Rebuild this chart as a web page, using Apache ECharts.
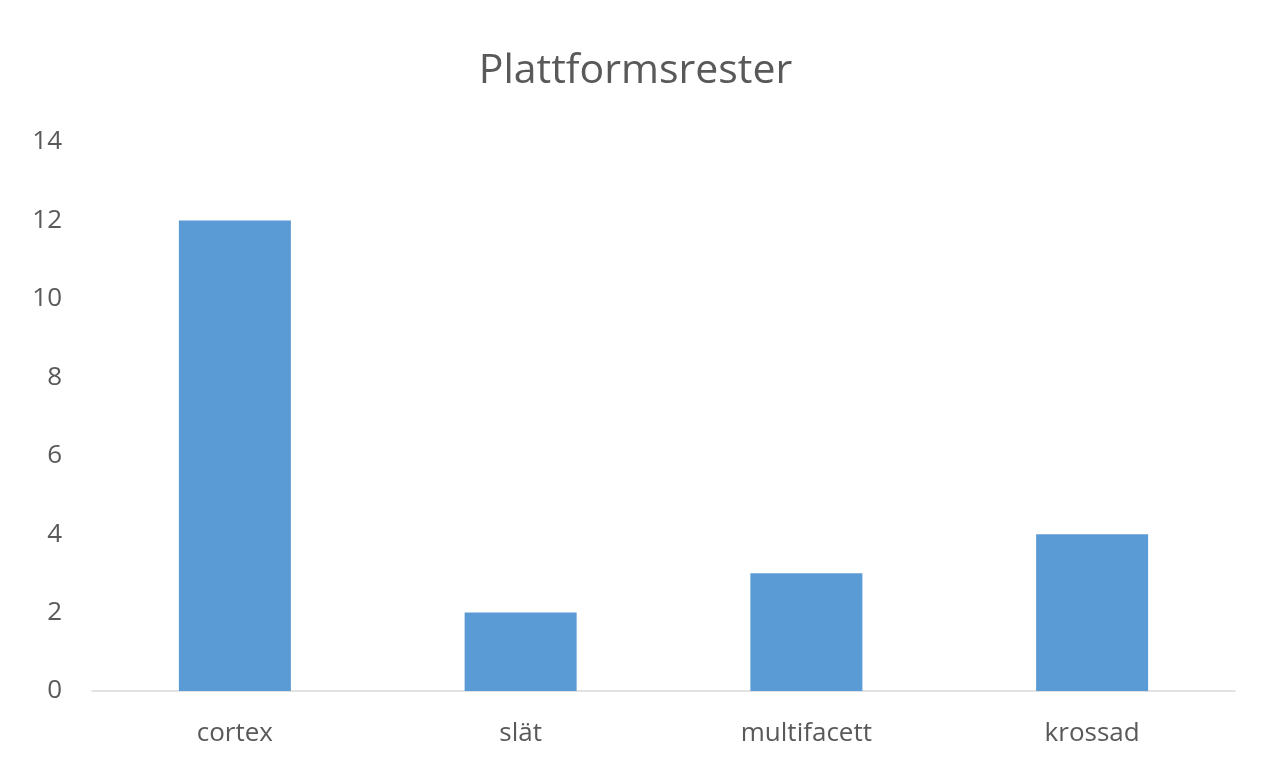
<!DOCTYPE html>
<html>
<head>
<meta charset="utf-8">
<script src="https://cdn.jsdelivr.net/npm/echarts@6/dist/echarts.min.js"></script>
<style>
  html, body { margin: 0; padding: 0; background: #ffffff; }
  #chart { width: 1271px; height: 766px; }
</style>
</head>
<body>
<div id="chart"></div>
<script>
// Platform remnants by type
const categories = ['cortex', 'slät', 'multifacett', 'krossad'];
const counts = [12, 2, 3, 4];
const yTicks = [0, 2, 4, 6, 8, 10, 12, 14];

const chart = echarts.init(document.getElementById('chart'));
chart.setOption({
  backgroundColor: '#ffffff',
  animation: false,
  title: {
    text: 'Plattformsrester',
    left: 'center',
    top: 46,
    textStyle: {
      fontFamily: 'Open Sans',
      fontSize: 41,
      fontWeight: 'normal',
      color: '#595959'
    }
  },
  grid: { left: 92, right: 36, top: 142, bottom: 75 },
  xAxis: {
    type: 'category',
    data: categories,
    axisLine: { lineStyle: { color: '#d9d9d9', width: 1.5 } },
    axisTick: { show: false },
    axisLabel: {
      fontFamily: 'Open Sans',
      fontSize: 26,
      color: '#595959',
      margin: 30
    }
  },
  yAxis: {
    type: 'value',
    min: yTicks[0],
    max: yTicks[yTicks.length - 1],
    interval: 2,
    axisLine: { show: false },
    axisTick: { show: false },
    splitLine: { show: false },
    axisLabel: {
      fontFamily: 'Open Sans',
      fontSize: 26,
      color: '#595959',
      margin: 30
    }
  },
  series: [{
    type: 'bar',
    data: counts,
    barWidth: 112,
    itemStyle: { color: '#5b9bd5' }
  }]
});
</script>
</body>
</html>
